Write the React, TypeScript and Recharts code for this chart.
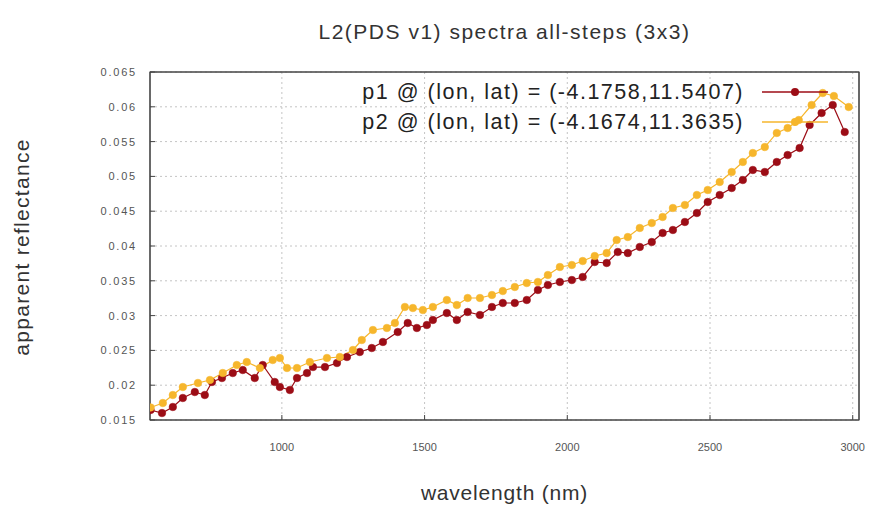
import { LineChart, Line, XAxis, YAxis, CartesianGrid, ReferenceArea } from 'recharts'

// p1 spectrum (dark red)
const P1_WAVELENGTH = [
  540, 580, 618, 653, 695, 730, 755, 790, 828, 863, 905, 933, 975, 993, 1028, 1053, 1088, 1109, 1151,
  1193, 1228, 1273, 1315, 1354, 1406, 1441, 1473, 1508, 1529, 1578, 1613, 1651, 1694, 1736, 1774, 1816,
  1858, 1897, 1932, 1974, 2016, 2054, 2096, 2138, 2177, 2212, 2254, 2296, 2334, 2370, 2412, 2454, 2492,
  2534, 2576, 2615, 2650, 2692, 2734, 2772, 2814, 2849, 2891, 2930, 2972,
]
const P1_REFLECTANCE = [
  0.01644, 0.016, 0.01687, 0.01816, 0.01902, 0.01859, 0.02046, 0.02103, 0.02175, 0.02218, 0.02103, 0.0229,
  0.02046, 0.01974, 0.01931, 0.02103, 0.02175, 0.02261, 0.02261, 0.02319, 0.02405, 0.02477, 0.02534,
  0.02621, 0.02764, 0.02894, 0.02822, 0.02865, 0.02937, 0.03037, 0.02937, 0.03052, 0.03009, 0.03124,
  0.03181, 0.03181, 0.03224, 0.03368, 0.0344, 0.03483, 0.03511, 0.03555, 0.0377, 0.03756, 0.03914,
  0.03899, 0.03986, 0.04057, 0.04187, 0.0423, 0.04345, 0.04474, 0.04632, 0.04733, 0.04833, 0.04948,
  0.05092, 0.05063, 0.05207, 0.05307, 0.05408, 0.05739, 0.05911, 0.06026, 0.05638,
]

// p2 spectrum (gold)
const P2_WAVELENGTH = [
  540, 583, 618, 653, 706, 748, 793, 842, 877, 923, 968, 993, 1018, 1053, 1098, 1158, 1203, 1249, 1280,
  1319, 1368, 1396, 1431, 1459, 1494, 1529, 1578, 1613, 1651, 1694, 1736, 1774, 1816, 1858, 1897, 1932,
  1974, 2016, 2054, 2096, 2138, 2173, 2212, 2254, 2296, 2334, 2370, 2412, 2454, 2492, 2534, 2576, 2615,
  2650, 2692, 2734, 2772, 2811, 2856, 2895, 2934, 2986,
]
const P2_REFLECTANCE = [
  0.0168, 0.01744, 0.01859, 0.01974, 0.02032, 0.02075, 0.02175, 0.0229, 0.02333, 0.02247, 0.02362,
  0.02391, 0.02247, 0.02247, 0.02333, 0.02391, 0.02405, 0.02506, 0.02649, 0.02793, 0.02822, 0.02894,
  0.03124, 0.03109, 0.0308, 0.03124, 0.03224, 0.03152, 0.03253, 0.03253, 0.03296, 0.03353, 0.03411,
  0.03468, 0.03483, 0.03583, 0.03698, 0.03727, 0.03784, 0.03856, 0.03899, 0.04086, 0.04129, 0.04259,
  0.0433, 0.04417, 0.04546, 0.04589, 0.04733, 0.04805, 0.0492, 0.05063, 0.05207, 0.05336, 0.05422,
  0.05624, 0.05695, 0.0581, 0.06026, 0.06198, 0.06155, 0.05997,
]

const X_TICKS = [1000, 1500, 2000, 2500, 3000]
const Y_TICKS = [0.015, 0.02, 0.025, 0.03, 0.035, 0.04, 0.045, 0.05, 0.055, 0.06, 0.065]
const X_DOMAIN: [number, number] = [538, 3022]
const Y_DOMAIN: [number, number] = [0.015, 0.065]

const P1_COLOR = '#9c0d16'
const P2_COLOR = '#f6b62c'
const SERIES = [
  { name: 'p1 @ (lon, lat) = (-4.1758,11.5407)', color: P1_COLOR },
  { name: 'p2 @ (lon, lat) = (-4.1674,11.3635)', color: P2_COLOR },
]

const p1Data = P1_WAVELENGTH.map((w, i) => ({ w, r: P1_REFLECTANCE[i] }))
const p2Data = P2_WAVELENGTH.map((w, i) => ({ w, r: P2_REFLECTANCE[i] }))

const FONT = '"Liberation Sans", Arial, sans-serif'
const tickStyle = { fontSize: 11, fill: '#555', fontFamily: FONT }

function KeyBox() {
  return (
    <div
      style={{
        position: 'absolute', top: 77, right: 52, fontFamily: FONT, fontSize: 21.5,
        letterSpacing: 1.5, color: '#222', lineHeight: '30px',
      }}
    >
      {SERIES.map((s) => (
        <div key={s.name} style={{ display: 'flex', alignItems: 'center', justifyContent: 'flex-end' }}>
          <span>{s.name}</span>
          <svg width={66} height={12} style={{ marginLeft: 18 }}>
            <line x1={0} y1={6} x2={66} y2={6} stroke={s.color} strokeWidth={1.3} />
            <circle cx={33} cy={6} r={4} fill={s.color} />
          </svg>
        </div>
      ))}
    </div>
  )
}

export default function App() {
  return (
    <div style={{ position: 'absolute', left: 0, top: 0, width: 880, height: 512, background: '#fff', fontFamily: FONT }}>
      <div
        style={{
          position: 'absolute', top: 20, left: 150, width: 709, textAlign: 'center',
          fontSize: 21, letterSpacing: 1.5, color: '#333',
        }}
      >
        L2(PDS v1) spectra all-steps (3x3)
      </div>
      <div
        style={{
          position: 'absolute', top: 481, left: 150, width: 709, textAlign: 'center',
          fontSize: 21, letterSpacing: 0.8, color: '#333',
        }}
      >
        wavelength (nm)
      </div>
      <div style={{ position: 'absolute', left: 22, top: 247, width: 0, height: 0 }}>
        <div
          style={{
            position: 'absolute', transform: 'translate(-50%, -50%) rotate(-90deg)', whiteSpace: 'nowrap',
            fontSize: 21, letterSpacing: 1.3, color: '#333',
          }}
        >
          apparent reflectance
        </div>
      </div>
      <LineChart width={880} height={512} margin={{ top: 0, right: 0, bottom: 0, left: 0 }}>
        <CartesianGrid stroke="#c4c4c4" strokeDasharray="2 3" verticalValues={X_TICKS} horizontalValues={Y_TICKS} />
        <XAxis
          dataKey="w"
          type="number"
          domain={X_DOMAIN}
          ticks={X_TICKS}
          allowDataOverflow
          height={92}
          tick={tickStyle}
          tickSize={-5}
          tickMargin={28}
          stroke="#444"
        />
        <XAxis
          xAxisId="top"
          orientation="top"
          type="number"
          domain={X_DOMAIN}
          ticks={X_TICKS}
          allowDataOverflow
          height={72}
          tick={false}
          tickSize={-5}
          stroke="#444"
        />
        <YAxis
          type="number"
          domain={Y_DOMAIN}
          ticks={Y_TICKS}
          allowDataOverflow
          width={150}
          tick={{ ...tickStyle, letterSpacing: 1.8 }}
          tickFormatter={(v: number) => String(+v.toFixed(3))}
          tickSize={-5}
          tickMargin={18}
          stroke="#444"
        />
        <YAxis
          yAxisId="right"
          orientation="right"
          type="number"
          domain={Y_DOMAIN}
          ticks={Y_TICKS}
          allowDataOverflow
          width={21}
          tick={false}
          tickSize={-5}
          stroke="#444"
        />
        <ReferenceArea
          x1={X_DOMAIN[0]} x2={X_DOMAIN[1]} y1={Y_DOMAIN[0]} y2={Y_DOMAIN[1]}
          fill="none" stroke="#444" strokeWidth={1.2} ifOverflow="visible"
        />
        <Line
          data={p1Data}
          dataKey="r"
          name={SERIES[0].name}
          stroke={P1_COLOR}
          strokeWidth={1.2}
          dot={{ r: 3.8, fill: P1_COLOR, stroke: P1_COLOR, strokeWidth: 0.5 }}
          isAnimationActive={false}
        />
        <Line
          data={p2Data}
          dataKey="r"
          name={SERIES[1].name}
          stroke={P2_COLOR}
          strokeWidth={1.2}
          dot={{ r: 3.8, fill: P2_COLOR, stroke: P2_COLOR, strokeWidth: 0.5 }}
          isAnimationActive={false}
        />
      </LineChart>
      <KeyBox />
    </div>
  )
}
